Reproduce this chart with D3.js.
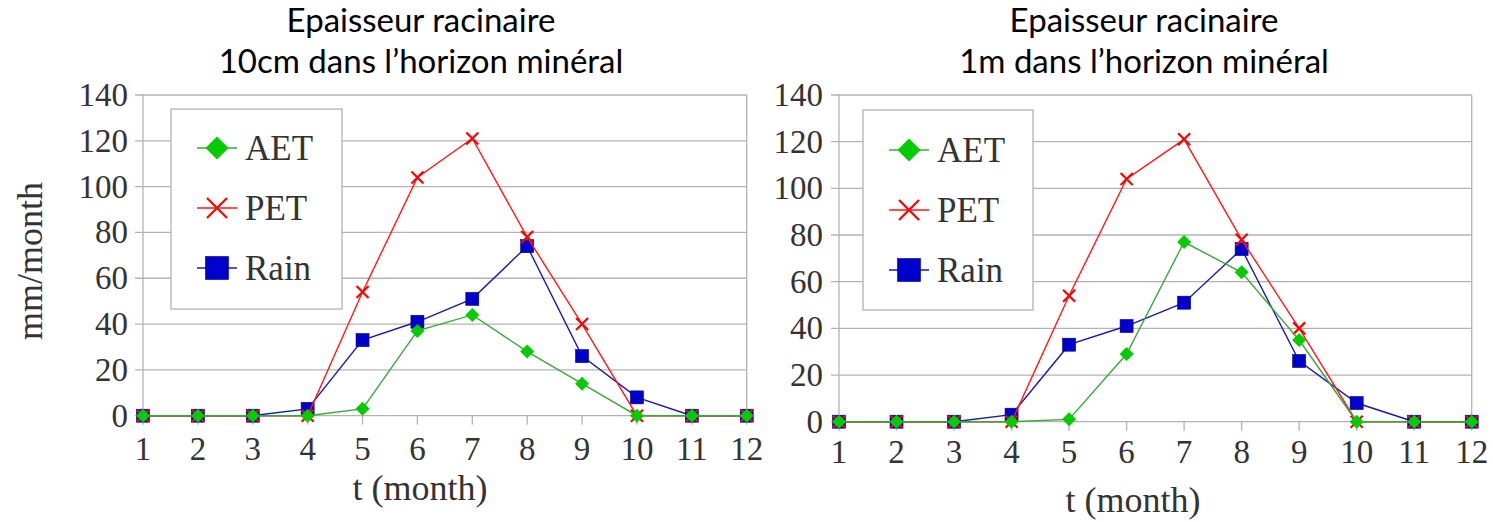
<!DOCTYPE html>
<html>
<head>
<meta charset="utf-8">
<script src="https://cdn.jsdelivr.net/npm/d3@7"></script>
<style>
  html, body { margin: 0; padding: 0; background: #fff; }
  svg { display: block; }
</style>
</head>
<body>
<svg id="chart" width="1493" height="522"></svg>
<script>
// Months on the x axis
const months = [1, 2, 3, 4, 5, 6, 7, 8, 9, 10, 11, 12];
const yTicks = [0, 20, 40, 60, 80, 100, 120, 140];

// Monthly series (mm/month)
const aet10cm = [0, 0, 0, 0, 3, 37, 44, 28, 14, 0, 0, 0];
const aet1m   = [0, 0, 0, 0, 1, 29, 77, 64, 35, 0, 0, 0];
const pet     = [0, 0, 0, 0, 54, 104, 121, 78, 40, 0, 0, 0];
const rain    = [0, 0, 0, 3, 33, 41, 51, 74, 26, 8, 0, 0];

const titles = [
  ["Epaisseur racinaire", "10cm dans l\u2019horizon min\u00e9ral"],
  ["Epaisseur racinaire", "1m dans l\u2019horizon min\u00e9ral"]
];
const seriesNames = ["AET", "PET", "Rain"];

const svg = d3.select("#chart");
const serif = "'Liberation Serif', 'Times New Roman', serif";
const textCol = "#333";
const gridCol = "#b3b3b3";

const styles = {
  AET:  { line: "#3aa83a", fill: "#00cc00", symbol: "diamond" },
  PET:  { line: "#ff1a1a", fill: "#ff0000", symbol: "x" },
  Rain: { line: "#1a1aa8", fill: "#0000cc", symbol: "square" }
};

function marker(g, kind, x, y, size, st) {
  if (kind === "square") {
    g.append("rect").attr("x", x - size / 2).attr("y", y - size / 2)
      .attr("width", size).attr("height", size)
      .attr("fill", st.fill).attr("stroke", "#000080").attr("stroke-width", 0.6);
  } else if (kind === "diamond") {
    const r = size / 2;
    g.append("path")
      .attr("d", `M${x},${y - r}L${x + r},${y}L${x},${y + r}L${x - r},${y}Z`)
      .attr("fill", st.fill);
  } else {
    const r = size / 2;
    g.append("path")
      .attr("d", `M${x - r},${y - r}L${x + r},${y + r}M${x - r},${y + r}L${x + r},${y - r}`)
      .attr("stroke", st.fill).attr("stroke-width", 2.2).attr("fill", "none");
  }
}

const panels = [
  { aet: aet10cm, left: 143, right: 746.7, top: 95, bottom: 415.7,
    legend: { x: 171, y: 109, w: 171, h: 200, mx: 217, tx: 245, rows: [148, 208, 268] },
    title: { cx: 421, y1: 32, y2: 73 },
    xTitle: { cx: 420, y: 500 }, yTitle: { x: 30, y: 261 }, xLabY: 460, yLabX: 128 },
  { aet: aet1m, left: 839, right: 1471.7, top: 95, bottom: 421.7,
    legend: { x: 863, y: 110, w: 170, h: 200, mx: 909, tx: 937, rows: [150, 210, 270] },
    title: { cx: 1144, y1: 32, y2: 73 },
    xTitle: { cx: 1133, y: 512 }, yTitle: null, xLabY: 463, yLabX: 823 }
];

panels.forEach((p, i) => {
  const g = svg.append("g");
  const x = d3.scaleLinear().domain([1, 12]).range([p.left, p.right]);
  const y = d3.scaleLinear().domain([0, 140]).range([p.bottom, p.top]);

  // Horizontal gridlines with short outer ticks
  g.append("g").selectAll("line").data(yTicks).join("line")
    .attr("x1", p.left - 8).attr("x2", p.right)
    .attr("y1", d => y(d)).attr("y2", d => y(d))
    .attr("stroke", gridCol).attr("stroke-width", 1.3);

  // Frame: left axis and right border
  g.append("line").attr("x1", p.left).attr("x2", p.left)
    .attr("y1", y(140)).attr("y2", y(0)).attr("stroke", gridCol).attr("stroke-width", 1.3);
  g.append("line").attr("x1", p.right).attr("x2", p.right)
    .attr("y1", y(140)).attr("y2", y(0)).attr("stroke", gridCol).attr("stroke-width", 1.3);

  // Bottom tick marks
  g.append("g").selectAll("line").data(months).join("line")
    .attr("x1", d => x(d)).attr("x2", d => x(d))
    .attr("y1", y(0)).attr("y2", y(0) + 9)
    .attr("stroke", gridCol).attr("stroke-width", 1.3);

  // Tick labels
  g.append("g").selectAll("text").data(yTicks).join("text")
    .attr("x", p.yLabX).attr("y", d => y(d) + 11)
    .attr("text-anchor", "end").attr("font-family", serif).attr("font-size", 33)
    .attr("fill", textCol).text(d => d);
  g.append("g").selectAll("text").data(months).join("text")
    .attr("x", d => x(d)).attr("y", p.xLabY)
    .attr("text-anchor", "middle").attr("font-family", serif).attr("font-size", 33)
    .attr("fill", textCol).text(d => d);

  // Axis titles
  g.append("text").attr("x", p.xTitle.cx).attr("y", p.xTitle.y)
    .attr("text-anchor", "middle").attr("font-family", serif).attr("font-size", 36)
    .attr("fill", textCol).text("t (month)");
  if (p.yTitle) {
    g.append("text")
      .attr("transform", `translate(${p.yTitle.x + 12},${p.yTitle.y}) rotate(-90)`)
      .attr("text-anchor", "middle").attr("font-family", serif).attr("font-size", 36)
      .attr("fill", textCol).text("mm/month");
  }

  // Chart title (two lines)
  const t = g.append("text").attr("text-anchor", "middle")
    .attr("font-family", "Lato, 'Open Sans', sans-serif").attr("font-size", 33).attr("fill", "#000");
  t.append("tspan").attr("x", p.title.cx).attr("y", p.title.y1).text(titles[i][0]);
  t.append("tspan").attr("x", p.title.cx).attr("y", p.title.y2).text(titles[i][1]);

  // Series: Rain, then PET, then AET on top
  const data = { AET: p.aet, PET: pet, Rain: rain };
  ["Rain", "PET", "AET"].forEach(name => {
    const st = styles[name];
    const vals = data[name];
    const line = d3.line().x((d, j) => x(months[j])).y(d => y(d));
    g.append("path").datum(vals).attr("d", line)
      .attr("fill", "none").attr("stroke", st.line).attr("stroke-width", 1.4);
    const mg = g.append("g");
    const sz = name === "Rain" ? 13 : (name === "AET" ? 14 : 12);
    vals.forEach((v, j) => marker(mg, st.symbol, x(months[j]), y(v), sz, st));
  });

  // Legend
  const L = p.legend;
  const lg = g.append("g");
  lg.append("rect").attr("x", L.x).attr("y", L.y).attr("width", L.w).attr("height", L.h)
    .attr("fill", "#fff").attr("stroke", gridCol).attr("stroke-width", 1.3);
  seriesNames.forEach((name, k) => {
    const st = styles[name];
    const cy = L.rows[k];
    lg.append("line").attr("x1", L.mx - 20).attr("x2", L.mx + 20)
      .attr("y1", cy).attr("y2", cy).attr("stroke", st.line).attr("stroke-width", 1.4);
    marker(lg, st.symbol, L.mx, cy, name === "PET" ? 20 : 23, st);
    lg.append("text").attr("x", L.tx).attr("y", cy + 12)
      .attr("font-family", serif).attr("font-size", 35).attr("fill", textCol).text(name);
  });
});
</script>
</body>
</html>
